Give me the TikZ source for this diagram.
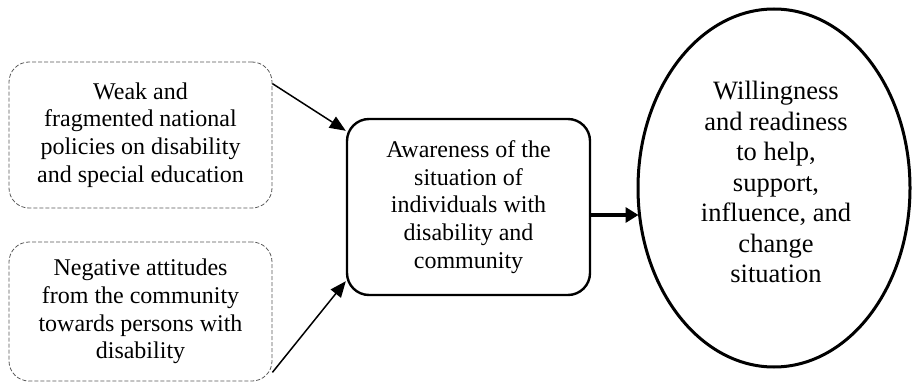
\documentclass[tikz,border=0pt]{standalone}
\usepackage{fontspec}
\setmainfont{Liberation Serif}
\usetikzlibrary{shapes.geometric,arrows.meta,calc}
\begin{document}
\begin{tikzpicture}[x=1pt,y=-1pt,
  txt/.style={font=\fontsize{24}{27.6}\selectfont, align=center, inner sep=0pt},
  bigtxt/.style={font=\fontsize{26.5}{30.5}\selectfont, align=center, inner sep=0pt},
  cause/.style={txt, draw=black!65, line width=0.8pt, dash pattern=on 4pt off 2pt,
    rounded corners=20pt, minimum width=263pt, minimum height=146pt},
  midbox/.style={txt, draw=black, line width=2.4pt, rounded corners=22pt,
    minimum width=243pt, minimum height=176pt},
  goal/.style={draw=black, line width=3pt, ellipse, inner sep=0pt,
    minimum width=272pt, minimum height=358pt},
  thinarrow/.style={line width=1.5pt, -{Triangle[length=16pt,width=13pt]}},
  thickarrow/.style={line width=4pt, -{Triangle[length=13pt,width=15pt]}}]
\useasboundingbox (0,0) rectangle (912,382);

% the two influencing factors
\node[cause] (policy) at (140.5,135) {Weak and\\fragmented national\\policies on disability\\and special education};
\node[cause, minimum height=139pt] (attitude) at (140.5,311.5) {Negative attitudes\\from the community\\towards persons with\\disability};

% central awareness box
\node[midbox] (aware) at (468.5,207) {Awareness of the\\situation of\\individuals with\\disability and\\community};

% outcome ellipse
\node[goal] (will) at (774,188) {};
\node[bigtxt] (willtext) at (776,182) {Willingness\\and readiness\\to help,\\support,\\influence, and\\change\\situation};

% connectors
\draw[thinarrow] ($(policy.north east)+(0,22)$) -- ($(aware.north west)+(0,13)$);
\draw[thinarrow] ($(attitude.south east)+(0,-9)$) -- ($(aware.south west)+(0,-15)$);
\draw[thickarrow] ($(aware.east)+(0,8)$) -- ($(will.west)+(2,27)$);
\end{tikzpicture}
\end{document}
